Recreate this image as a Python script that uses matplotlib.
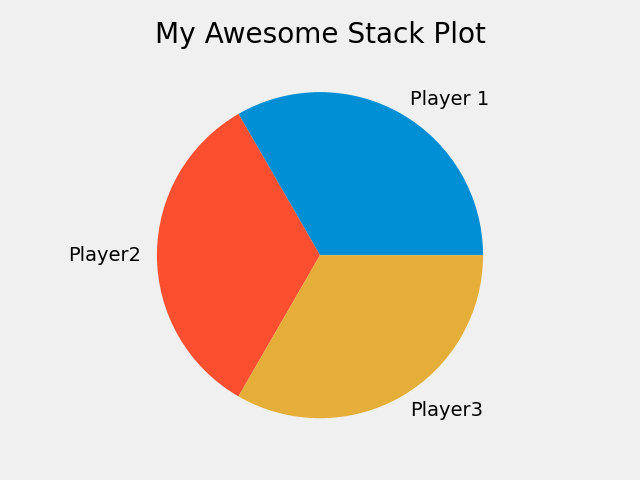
import matplotlib
matplotlib.use("Agg")
import matplotlib.pyplot as plt

plt.style.use("fivethirtyeight")

labels = ["Player 1", "Player2", "Player3"]
values = [1, 1, 1]
colors = ["#008fd5", "#fc4f30", "#e5ae38"]

fig = plt.figure(figsize=(6.4, 4.8), dpi=100)
plt.pie(values, labels=labels, colors=colors)
plt.title("My Awesome Stack Plot")
plt.tight_layout()
plt.savefig("out.png")
